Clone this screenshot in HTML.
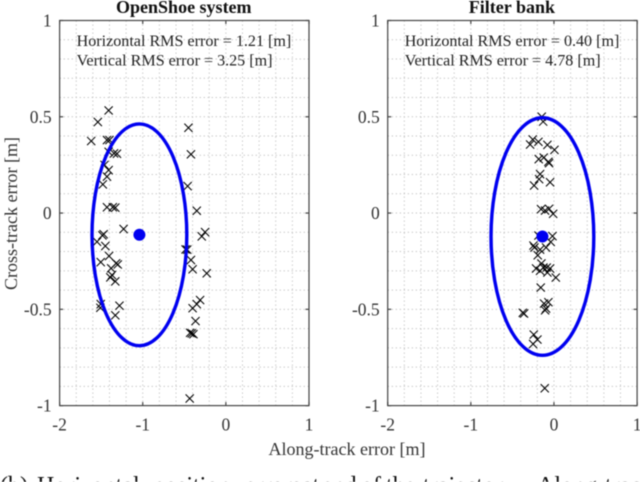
<!DOCTYPE html>
<html>
<head>
<meta charset="utf-8">
<style>
html,body{margin:0;padding:0;background:#fff;}
#wrap{position:relative;width:640px;height:482px;overflow:hidden;background:#fff;}
svg{display:block;filter:blur(0.4px);}
text{font-family:"Liberation Serif",serif;}
</style>
</head>
<body>
<div id="wrap">
<svg id="chart" width="640" height="482" viewBox="0 0 640 482">
  <text x="347" y="455" text-anchor="middle" font-size="18" fill="#333">Along-track error [m]</text>
  <text transform="translate(17,213.5) rotate(-90)" text-anchor="middle" font-size="18" fill="#333">Cross-track error [m]</text>
  <text y="493" font-size="24" fill="#111"><tspan x="0">(b)</tspan><tspan x="37">Horizontal</tspan><tspan x="153">position</tspan><tspan x="245">errors</tspan><tspan x="302">at</tspan><tspan x="322">end</tspan><tspan x="361">of</tspan><tspan x="386">the</tspan><tspan x="423">trajectory.</tspan><tspan x="537">Along-track</tspan></text>
</svg>
</div>
<script>
var xTicks = [-2, -1, 0, 1];
var yTicks = [-1, -0.5, 0, 0.5, 1];
var xMinorTicks = [-1.8, -1.6, -1.4, -1.2, -1, -0.8, -0.6, -0.4, -0.2, 0, 0.2, 0.4, 0.6, 0.8];
var yMinorTicks = [-0.9, -0.8, -0.7, -0.6, -0.5, -0.4, -0.3, -0.2, -0.1, 0, 0.1, 0.2, 0.3, 0.4, 0.5, 0.6, 0.7, 0.8, 0.9];

var leftTitle = "OpenShoe system";
var leftNotes = ["Horizontal RMS error = 1.21 [m]", "Vertical RMS error = 3.25 [m]"];
var leftX = [-1.41,-1.54,-1.62,-1.43,-1.40,-1.41,-1.345,-1.31,-1.46,-1.41,-1.43,-1.48,-1.43,-1.36,-1.33,-1.23,-1.47,-1.485,-1.55,-1.45,-1.405,-1.505,-1.32,-1.30,-1.38,-1.37,-1.39,-1.33,-1.505,-1.51,-1.28,-1.33,-0.45,-0.42,-0.46,-0.35,-0.25,-0.29,-0.485,-0.465,-0.42,-0.40,-0.23,-0.31,-0.35,-0.40,-0.365,-0.43,-0.39,-0.41,-0.435];
var leftY = [0.533,0.473,0.374,0.379,0.379,0.318,0.31,0.308,0.25,0.223,0.189,0.149,0.03,0.03,0.028,-0.083,-0.11,-0.116,-0.149,-0.171,-0.223,-0.255,-0.261,-0.267,-0.287,-0.322,-0.334,-0.355,-0.473,-0.492,-0.481,-0.531,0.443,0.305,0.14,0.012,-0.099,-0.121,-0.189,-0.19,-0.244,-0.292,-0.313,-0.452,-0.473,-0.494,-0.561,-0.622,-0.629,-0.625,-0.963];
var leftMean = [-1.04, -0.113];
var leftRadii = [0.57, 0.576];

var rightTitle = "Filter bank";
var rightNotes = ["Horizontal RMS error = 0.40 [m]", "Vertical RMS error = 4.78 [m]"];
var rightX = [-0.147,-0.13,-0.255,-0.287,-0.187,-0.079,0.006,-0.183,-0.123,-0.067,-0.059,-0.167,-0.179,-0.239,-0.047,-0.155,-0.107,-0.059,-0.01,-0.187,-0.018,-0.039,-0.247,-0.235,-0.095,-0.167,-0.195,-0.151,-0.215,-0.167,-0.127,-0.087,-0.047,-0.079,0.022,-0.159,-0.067,-0.119,-0.095,-0.107,-0.36,-0.375,-0.243,-0.199,-0.251,-0.111];
var rightY = [0.5,0.475,0.382,0.356,0.37,0.354,0.328,0.28,0.288,0.266,0.259,0.202,0.176,0.143,0.16,0.02,0.013,0.022,-0.004,-0.117,-0.12,-0.15,-0.169,-0.179,-0.179,-0.19,-0.219,-0.262,-0.288,-0.3,-0.283,-0.283,-0.288,-0.309,-0.335,-0.387,-0.463,-0.47,-0.496,-0.505,-0.522,-0.518,-0.631,-0.657,-0.68,-0.91];
var rightMean = [-0.139, -0.122];
var rightRadii = [0.618, 0.617];

var NS = "http://www.w3.org/2000/svg";
var svg = document.getElementById("chart");

function make(tag, attrs, parent, text) {
  var el = document.createElementNS(NS, tag);
  for (var k in attrs) el.setAttribute(k, attrs[k]);
  if (text !== undefined) el.textContent = text;
  parent.appendChild(el);
  return el;
}

function drawPanel(prefix, left, title, notes, xs, ys, mean, radii) {
  var right = left + 249.4, top = 20.5, bottom = 405.6;
  function sx(v) { return left + (v + 2) / 3 * (right - left); }
  function sy(v) { return top + (1 - v) / 2 * (bottom - top); }

  var g = make("g", {}, svg);
  
  

  var grid = make("g", {stroke: "#c4c4c4", "stroke-width": 1, "stroke-dasharray": "1.3 2.7", fill: "none"}, g);
  
  
  xMinorTicks.forEach(function (v) {
    make("line", {x1: sx(v), x2: sx(v), y1: top, y2: bottom}, grid);
  });
  yMinorTicks.forEach(function (v) {
    make("line", {x1: left, x2: right, y1: sy(v), y2: sy(v)}, grid);
  });

  var axes = make("g", {stroke: "#444", "stroke-width": 1.2, fill: "none"}, g);
  
  
  make("rect", {x: left, y: top, width: right - left, height: bottom - top}, axes);
  xTicks.forEach(function (v) {
    make("line", {x1: sx(v), x2: sx(v), y1: bottom, y2: bottom - 3.5}, axes);
    make("line", {x1: sx(v), x2: sx(v), y1: top, y2: top + 3.5}, axes);
    var t = make("text", {x: sx(v), y: bottom + 25, "text-anchor": "middle", "font-size": 17.5, fill: "#333", stroke: "none"}, g, String(v));
    
    
  });
  yTicks.forEach(function (v) {
    make("line", {x1: left, x2: left + 3.5, y1: sy(v), y2: sy(v)}, axes);
    make("line", {x1: right, x2: right - 3.5, y1: sy(v), y2: sy(v)}, axes);
    var t = make("text", {x: left - 8, y: sy(v) + 6, "text-anchor": "end", "font-size": 17.5, fill: "#333"}, g, String(v));
    
    
  });

  var tt = make("text", {x: (left + right) / 2 - 0.5, y: 13, "text-anchor": "middle", "font-size": 18, "font-weight": "bold", fill: "#111"}, g, title);
  
  

  notes.forEach(function (s, i) {
    var n = make("text", {x: left + 17, y: 46 + i * 19.5, "font-size": 16.1, fill: "#222"}, g, s);
    
    
  });

  var pts = make("g", {stroke: "#000", "stroke-width": 1.05, fill: "none"}, g);
  
  
  xs.forEach(function (x, i) {
    var cx = sx(x), cy = sy(ys[i]), r = 4.1;
    var m = make("path", {d: "M" + (cx - r) + " " + (cy - r) + "L" + (cx + r) + " " + (cy + r) + "M" + (cx - r) + " " + (cy + r) + "L" + (cx + r) + " " + (cy - r)}, pts);
    
    
  });

  var ell = make("ellipse", {cx: sx(mean[0]), cy: sy(mean[1]), rx: sx(mean[0] + radii[0]) - sx(mean[0]), ry: sy(mean[1] - radii[1]) - sy(mean[1]), fill: "none", stroke: "#0000f0", "stroke-width": 3.4}, g);
  
  

  var dot = make("circle", {cx: sx(mean[0]), cy: sy(mean[1]), r: 6, fill: "#0000f0"}, g);
  
  
}

drawPanel("openshoe", 59.6, leftTitle, leftNotes, leftX, leftY, leftMean, leftRadii);
drawPanel("filter-bank", 387.7, rightTitle, rightNotes, rightX, rightY, rightMean, rightRadii);
</script>
</body>
</html>
